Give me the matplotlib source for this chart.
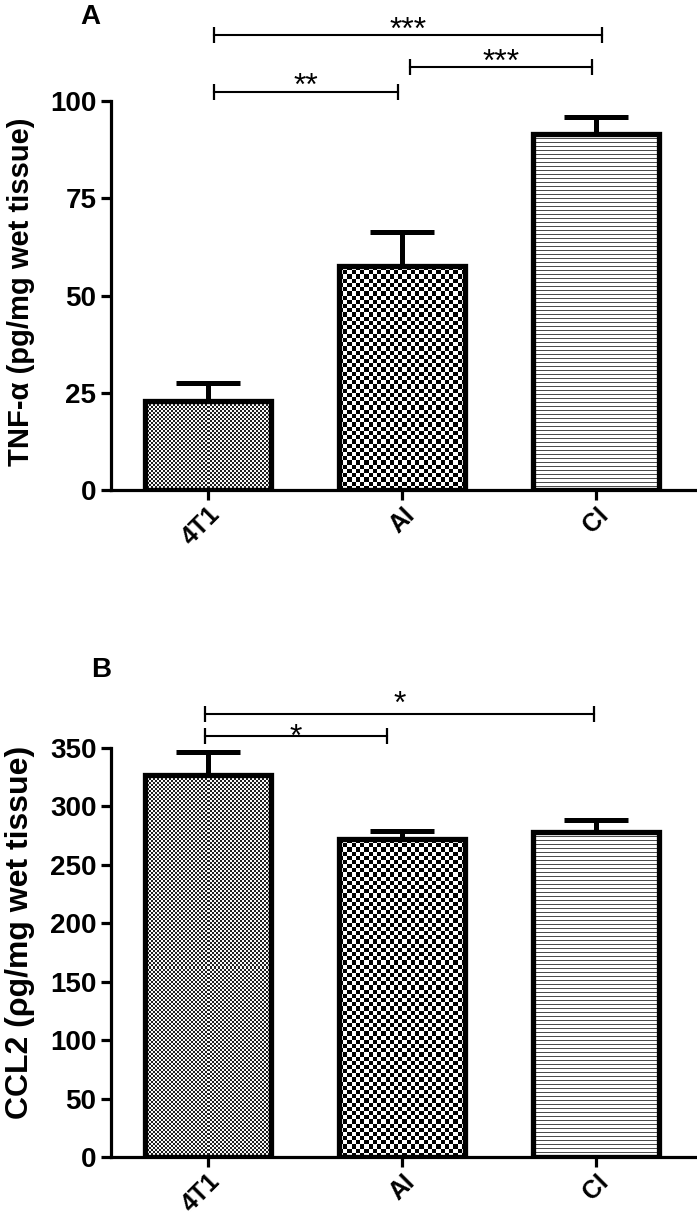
import numpy as np
import matplotlib
matplotlib.use("Agg")
import matplotlib.pyplot as plt

# ---------------- data ----------------
groups = ["4T1", "AI", "CI"]
tnf_values = [23.0, 57.5, 91.5]
tnf_errors = [4.6, 8.8, 4.4]
ccl2_values = [327.0, 272.0, 278.0]
ccl2_errors = [20.0, 7.0, 10.0]
tnf_ticks = [0, 25, 50, 75, 100]
ccl2_ticks = [0, 50, 100, 150, 200, 250, 300, 350]
# significance brackets: (x_start, x_end, y, label, label-centre height above bracket in px)
tnf_sig = [(0.03, 2.03, 117.0, "***", 14),
           (1.04, 1.98, 108.8, "***", 14),
           (0.03, 0.98, 102.3, "**", 16)]
ccl2_sig = [(-0.015, 1.99, 379.0, "*", 20),
            (-0.015, 0.92, 360.0, "*", 9)]
patterns = ["fine", "coarse", "lines"]

plt.rcParams['font.family'] = ['Liberation Sans', 'DejaVu Sans']

W, H = 697, 1217
fig = plt.figure(figsize=(W / 100, H / 100), dpi=100)


def axes_px(left, right, top, bottom):
    return [left / W, 1 - bottom / H, (right - left) / W, (bottom - top) / H]


axA = fig.add_axes(axes_px(111, 695, 101, 490))
axB = fig.add_axes(axes_px(111, 695, 748, 1157))


def fill_pattern(ax, rect, kind):
    x0, y0 = rect.get_x(), rect.get_y()
    x1, y1 = x0 + rect.get_width(), y0 + rect.get_height()
    p0 = ax.transData.transform((x0, y0))
    p1 = ax.transData.transform((x1, y1))
    wpx, hpx = abs(p1[0] - p0[0]), abs(p1[1] - p0[1])
    if kind == "fine":
        cell = 2.0
        nx, ny = max(1, int(round(wpx / cell))), max(1, int(round(hpx / cell)))
        ii, jj = np.meshgrid(np.arange(ny), np.arange(nx), indexing="ij")
        img = ((ii + jj) % 2).astype(float) * 0.85 + 0.12
    elif kind == "coarse":
        cell = 4.2
        nx, ny = max(1, int(round(wpx / cell))), max(1, int(round(hpx / cell)))
        ii, jj = np.meshgrid(np.arange(ny), np.arange(nx), indexing="ij")
        img = ((ii + jj) % 2).astype(float)
    else:
        ny = max(1, int(round(hpx)))
        rows = np.ones(ny)
        rows[::4] = 0.3
        img = np.tile(rows[:, None], (1, 4))
    ax.imshow(img, cmap="gray", vmin=0, vmax=1, extent=(x0, x1, y0, y1),
              origin="upper", aspect="auto", interpolation="nearest", zorder=1.5)


def draw_panel(ax, values, errors, ticks, ylim, sig, ylabel, ylabel_size,
               ylabel_pos, panel_label, label_xy):
    x = np.arange(len(groups))
    ax.set_xlim(-0.5, 2.51)
    ax.set_ylim(*ylim)
    bars = ax.bar(x, values, width=0.65, color="white", edgecolor="none", zorder=1)
    for rect, kind in zip(bars, patterns):
        fill_pattern(ax, rect, kind)
    ax.bar(x, values, width=0.65, fill=False, edgecolor="black", linewidth=3.8, zorder=2)
    ax.errorbar(x, values, yerr=[np.zeros(len(values)), errors], fmt="none",
                ecolor="black", elinewidth=3.6, capsize=23, capthick=3.6,
                zorder=3, clip_on=False)
    for s in ["top", "right"]:
        ax.spines[s].set_visible(False)
    for s in ["left", "bottom"]:
        ax.spines[s].set_linewidth(2.3)
    ax.set_yticks(ticks)
    ax.set_xticks(x)
    ax.set_xticklabels(groups, rotation=45, ha="right", rotation_mode="anchor",
                       fontsize=18, fontweight="bold")
    ax.tick_params(axis="both", width=2.3, length=7.5, pad=3)
    ax.tick_params(axis="y", labelsize=20)
    for t in ax.get_yticklabels():
        t.set_fontweight("bold")
    ax.tick_params(axis="x", pad=1.5)
    ax.set_ylabel(ylabel, fontsize=ylabel_size, fontweight="bold")
    ax.yaxis.set_label_coords(-0.13, ylabel_pos)
    fs = 23
    for xs, xe, y, lab, off in sig:
        ax.plot([xs, xe], [y, y], color="black", lw=1.5, clip_on=False, zorder=4)
        ax.plot([xs, xe], [y, y], linestyle="none", marker="|", markersize=12,
                mew=1.6, color="black", clip_on=False, zorder=4)
        ax.annotate(lab, xy=((xs + xe) / 2, y),
                    xytext=(0, off * 0.72 - 0.58 * fs),
                    textcoords="offset points", ha="center", va="baseline",
                    fontsize=fs, annotation_clip=False)
    fig.text(label_xy[0] / W, 1 - label_xy[1] / H, panel_label, fontsize=20,
             fontweight="bold", ha="center", va="center")


draw_panel(axA, tnf_values, tnf_errors, tnf_ticks, (0, 100), tnf_sig,
           "TNF-α (pg/mg wet tissue)", 21, 0.51, "A", (90, 17))
draw_panel(axB, ccl2_values, ccl2_errors, ccl2_ticks, (0, 350), ccl2_sig,
           "CCL2 (ρg/mg wet tissue)", 23, 0.55, "B", (101, 670))

fig.savefig("out.png", dpi=100, facecolor="white")
